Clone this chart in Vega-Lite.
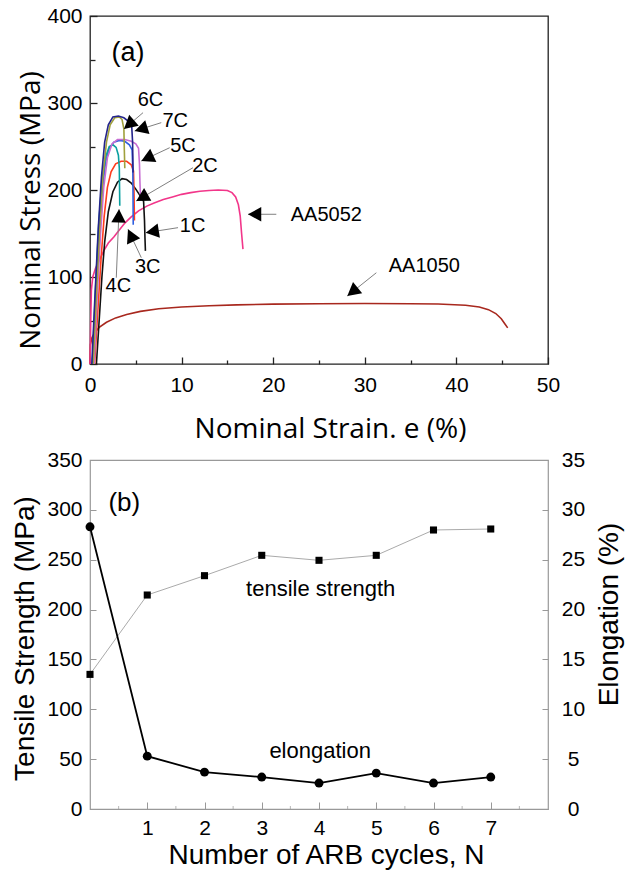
{
  "$schema": "https://vega.github.io/schema/vega-lite/v6.json",
  "padding": {"left": 10, "top": 4, "right": 5, "bottom": 0},
  "spacing": 3,
  "config": {
    "font": "Liberation Sans",
    "axis": {"labelFont": "Liberation Sans", "labelFontSize": 21, "labelColor": "#000", "grid": false, "domain": false, "titleFontWeight": "normal", "titleColor": "#000", "labelFlush": false, "labelOverlap": false},
    "text": {"font": "Liberation Sans"}
  },
  "datasets": {
    "curves": [
      {"c": "AA1050", "i": 0, "e": 0, "s": 0},
      {"c": "AA1050", "i": 1, "e": 0.05, "s": 22},
      {"c": "AA1050", "i": 2, "e": 0.2, "s": 30},
      {"c": "AA1050", "i": 3, "e": 0.5, "s": 36},
      {"c": "AA1050", "i": 4, "e": 1, "s": 42},
      {"c": "AA1050", "i": 5, "e": 1.8, "s": 48},
      {"c": "AA1050", "i": 6, "e": 2.8, "s": 53},
      {"c": "AA1050", "i": 7, "e": 4, "s": 57},
      {"c": "AA1050", "i": 8, "e": 5.5, "s": 60.5},
      {"c": "AA1050", "i": 9, "e": 7.5, "s": 63.5},
      {"c": "AA1050", "i": 10, "e": 10, "s": 65.5},
      {"c": "AA1050", "i": 11, "e": 13, "s": 67},
      {"c": "AA1050", "i": 12, "e": 16, "s": 68},
      {"c": "AA1050", "i": 13, "e": 20, "s": 68.8},
      {"c": "AA1050", "i": 14, "e": 25, "s": 69.3},
      {"c": "AA1050", "i": 15, "e": 30, "s": 69.5},
      {"c": "AA1050", "i": 16, "e": 35, "s": 69.3},
      {"c": "AA1050", "i": 17, "e": 38, "s": 69},
      {"c": "AA1050", "i": 18, "e": 41, "s": 67.6},
      {"c": "AA1050", "i": 19, "e": 42.5, "s": 65.5},
      {"c": "AA1050", "i": 20, "e": 43.5, "s": 62.5},
      {"c": "AA1050", "i": 21, "e": 44.3, "s": 58},
      {"c": "AA1050", "i": 22, "e": 44.9, "s": 52},
      {"c": "AA1050", "i": 23, "e": 45.3, "s": 46},
      {"c": "AA1050", "i": 24, "e": 45.6, "s": 41.5},
      {"c": "AA5052", "i": 0, "e": 0, "s": 0},
      {"c": "AA5052", "i": 1, "e": 0.08, "s": 50},
      {"c": "AA5052", "i": 2, "e": 0.15, "s": 85},
      {"c": "AA5052", "i": 3, "e": 0.3, "s": 100},
      {"c": "AA5052", "i": 4, "e": 0.6, "s": 110},
      {"c": "AA5052", "i": 5, "e": 1, "s": 119},
      {"c": "AA5052", "i": 6, "e": 1.5, "s": 130},
      {"c": "AA5052", "i": 7, "e": 2, "s": 139},
      {"c": "AA5052", "i": 8, "e": 2.6, "s": 146},
      {"c": "AA5052", "i": 9, "e": 3.2, "s": 154},
      {"c": "AA5052", "i": 10, "e": 3.8, "s": 162},
      {"c": "AA5052", "i": 11, "e": 4.5, "s": 169},
      {"c": "AA5052", "i": 12, "e": 5.3, "s": 176},
      {"c": "AA5052", "i": 13, "e": 6.2, "s": 181.5},
      {"c": "AA5052", "i": 14, "e": 7, "s": 185},
      {"c": "AA5052", "i": 15, "e": 8, "s": 189},
      {"c": "AA5052", "i": 16, "e": 9, "s": 192},
      {"c": "AA5052", "i": 17, "e": 10, "s": 195},
      {"c": "AA5052", "i": 18, "e": 11, "s": 197},
      {"c": "AA5052", "i": 19, "e": 12, "s": 198.5},
      {"c": "AA5052", "i": 20, "e": 13, "s": 199.5},
      {"c": "AA5052", "i": 21, "e": 14, "s": 200},
      {"c": "AA5052", "i": 22, "e": 15, "s": 199.5},
      {"c": "AA5052", "i": 23, "e": 15.5, "s": 197},
      {"c": "AA5052", "i": 24, "e": 15.9, "s": 192},
      {"c": "AA5052", "i": 25, "e": 16.2, "s": 183},
      {"c": "AA5052", "i": 26, "e": 16.4, "s": 170},
      {"c": "AA5052", "i": 27, "e": 16.55, "s": 150},
      {"c": "AA5052", "i": 28, "e": 16.7, "s": 132},
      {"c": "1C", "i": 0, "e": 0.7, "s": 0},
      {"c": "1C", "i": 1, "e": 1.0, "s": 50},
      {"c": "1C", "i": 2, "e": 1.3, "s": 100},
      {"c": "1C", "i": 3, "e": 1.6, "s": 140},
      {"c": "1C", "i": 4, "e": 2.0, "s": 175},
      {"c": "1C", "i": 5, "e": 2.5, "s": 198},
      {"c": "1C", "i": 6, "e": 3.0, "s": 209},
      {"c": "1C", "i": 7, "e": 3.5, "s": 213},
      {"c": "1C", "i": 8, "e": 4.0, "s": 212},
      {"c": "1C", "i": 9, "e": 4.5, "s": 208},
      {"c": "1C", "i": 10, "e": 5.0, "s": 201},
      {"c": "1C", "i": 11, "e": 5.5, "s": 193},
      {"c": "1C", "i": 12, "e": 5.85, "s": 187},
      {"c": "1C", "i": 13, "e": 5.95, "s": 165},
      {"c": "1C", "i": 14, "e": 6.0, "s": 145},
      {"c": "1C", "i": 15, "e": 6.05, "s": 130},
      {"c": "2C", "i": 0, "e": 0.5, "s": 0},
      {"c": "2C", "i": 1, "e": 0.85, "s": 60},
      {"c": "2C", "i": 2, "e": 1.2, "s": 120},
      {"c": "2C", "i": 3, "e": 1.55, "s": 170},
      {"c": "2C", "i": 4, "e": 1.9, "s": 203},
      {"c": "2C", "i": 5, "e": 2.3, "s": 221},
      {"c": "2C", "i": 6, "e": 2.8, "s": 230},
      {"c": "2C", "i": 7, "e": 3.4, "s": 233},
      {"c": "2C", "i": 8, "e": 4.0, "s": 233},
      {"c": "2C", "i": 9, "e": 4.5, "s": 229},
      {"c": "2C", "i": 10, "e": 4.75, "s": 222},
      {"c": "2C", "i": 11, "e": 4.8, "s": 200},
      {"c": "2C", "i": 12, "e": 4.85, "s": 165},
      {"c": "3C", "i": 0, "e": 0.3, "s": 0},
      {"c": "3C", "i": 1, "e": 0.65, "s": 80},
      {"c": "3C", "i": 2, "e": 1.0, "s": 150},
      {"c": "3C", "i": 3, "e": 1.35, "s": 200},
      {"c": "3C", "i": 4, "e": 1.7, "s": 232},
      {"c": "3C", "i": 5, "e": 2.1, "s": 248},
      {"c": "3C", "i": 6, "e": 2.6, "s": 255},
      {"c": "3C", "i": 7, "e": 3.2, "s": 257},
      {"c": "3C", "i": 8, "e": 3.8, "s": 256},
      {"c": "3C", "i": 9, "e": 4.3, "s": 252},
      {"c": "3C", "i": 10, "e": 4.6, "s": 246},
      {"c": "3C", "i": 11, "e": 4.68, "s": 220},
      {"c": "3C", "i": 12, "e": 4.72, "s": 160},
      {"c": "4C", "i": 0, "e": 0.25, "s": 0},
      {"c": "4C", "i": 1, "e": 0.6, "s": 85},
      {"c": "4C", "i": 2, "e": 0.95, "s": 160},
      {"c": "4C", "i": 3, "e": 1.3, "s": 210},
      {"c": "4C", "i": 4, "e": 1.7, "s": 238},
      {"c": "4C", "i": 5, "e": 2.1, "s": 250},
      {"c": "4C", "i": 6, "e": 2.5, "s": 252},
      {"c": "4C", "i": 7, "e": 2.85, "s": 249},
      {"c": "4C", "i": 8, "e": 3.1, "s": 240},
      {"c": "4C", "i": 9, "e": 3.2, "s": 225},
      {"c": "4C", "i": 10, "e": 3.25, "s": 182},
      {"c": "5C", "i": 0, "e": 0.45, "s": 0},
      {"c": "5C", "i": 1, "e": 0.8, "s": 80},
      {"c": "5C", "i": 2, "e": 1.15, "s": 150},
      {"c": "5C", "i": 3, "e": 1.5, "s": 203},
      {"c": "5C", "i": 4, "e": 1.9, "s": 237},
      {"c": "5C", "i": 5, "e": 2.4, "s": 253},
      {"c": "5C", "i": 6, "e": 3.0, "s": 258},
      {"c": "5C", "i": 7, "e": 3.8, "s": 258},
      {"c": "5C", "i": 8, "e": 4.5, "s": 256},
      {"c": "5C", "i": 9, "e": 5.0, "s": 253},
      {"c": "5C", "i": 10, "e": 5.3, "s": 248},
      {"c": "5C", "i": 11, "e": 5.4, "s": 230},
      {"c": "5C", "i": 12, "e": 5.45, "s": 210},
      {"c": "5C", "i": 13, "e": 5.5, "s": 195},
      {"c": "6C", "i": 0, "e": 0.35, "s": 0},
      {"c": "6C", "i": 1, "e": 0.7, "s": 80},
      {"c": "6C", "i": 2, "e": 1.05, "s": 155},
      {"c": "6C", "i": 3, "e": 1.4, "s": 215},
      {"c": "6C", "i": 4, "e": 1.8, "s": 255},
      {"c": "6C", "i": 5, "e": 2.2, "s": 275},
      {"c": "6C", "i": 6, "e": 2.7, "s": 283},
      {"c": "6C", "i": 7, "e": 3.2, "s": 284},
      {"c": "6C", "i": 8, "e": 3.5, "s": 281},
      {"c": "6C", "i": 9, "e": 3.7, "s": 270},
      {"c": "6C", "i": 10, "e": 3.75, "s": 245},
      {"c": "6C", "i": 11, "e": 3.8, "s": 225},
      {"c": "7C", "i": 0, "e": 0.2, "s": 0},
      {"c": "7C", "i": 1, "e": 0.55, "s": 80},
      {"c": "7C", "i": 2, "e": 0.9, "s": 155},
      {"c": "7C", "i": 3, "e": 1.25, "s": 215},
      {"c": "7C", "i": 4, "e": 1.6, "s": 255},
      {"c": "7C", "i": 5, "e": 2.0, "s": 275},
      {"c": "7C", "i": 6, "e": 2.5, "s": 284},
      {"c": "7C", "i": 7, "e": 3.1, "s": 285},
      {"c": "7C", "i": 8, "e": 3.7, "s": 283},
      {"c": "7C", "i": 9, "e": 4.2, "s": 279},
      {"c": "7C", "i": 10, "e": 4.55, "s": 274},
      {"c": "7C", "i": 11, "e": 4.65, "s": 255},
      {"c": "7C", "i": 12, "e": 4.7, "s": 220}
    ],
    "ann": [
      {"label": "6C", "tx": 6.6, "ty": 304, "ax": 5.79, "ay": 288.9, "hx": 3.71, "hy": 270.1, "dir": 229},
      {"label": "7C", "tx": 9.3, "ty": 279, "ax": 7.78, "ay": 277.4, "hx": 4.88, "hy": 267.8, "dir": 253},
      {"label": "5C", "tx": 10.15, "ty": 251, "ax": 8.7, "ay": 248.6, "hx": 5.6, "hy": 233.3, "dir": 245},
      {"label": "2C", "tx": 12.55, "ty": 227.6, "ax": 11.24, "ay": 225.6, "hx": 5.05, "hy": 187.4, "dir": 240},
      {"label": "1C", "tx": 11.2, "ty": 159, "ax": 9.61, "ay": 156.7, "hx": 6.08, "hy": 150.9, "dir": 261},
      {"label": "3C", "tx": 6.3, "ty": 112, "ax": 5.6, "ay": 122.2, "hx": 4.15, "hy": 154.8, "dir": 335},
      {"label": "4C", "tx": 3.1, "ty": 90, "ax": 2.87, "ay": 99.2, "hx": 3.17, "hy": 177.8, "dir": 2},
      {"label": "AA5052", "tx": 25.8, "ty": 171.8, "ax": 20.34, "ay": 172.1, "hx": 17.25, "hy": 172.1, "dir": 270},
      {"label": "AA1050", "tx": 36.5, "ty": 112.6, "ax": 31.26, "ay": 104.9, "hx": 28.09, "hy": 78.2, "dir": 231}
    ],
    "arb": [
      {"N": 0, "ts": 135, "el": 28.3},
      {"N": 1, "ts": 214.6, "el": 5.3},
      {"N": 2, "ts": 234, "el": 3.7},
      {"N": 3, "ts": 254.4, "el": 3.2},
      {"N": 4, "ts": 249.4, "el": 2.6},
      {"N": 5, "ts": 254.4, "el": 3.6},
      {"N": 6, "ts": 279.8, "el": 2.6},
      {"N": 7, "ts": 280.8, "el": 3.2}
    ],
    "minorN": [
      {"N": 0.5, "ts": 0}, {"N": 1.5, "ts": 0}, {"N": 2.5, "ts": 0}, {"N": 3.5, "ts": 0},
      {"N": 4.5, "ts": 0}, {"N": 5.5, "ts": 0}, {"N": 6.5, "ts": 0}, {"N": 7.5, "ts": 0}
    ]
  },
  "vconcat": [
    {
      "width": 458,
      "height": 348,
      "view": {"stroke": "#222", "strokeWidth": 1.3},
      "layer": [
        {
          "data": {"name": "curves"},
          "mark": {"type": "line", "strokeWidth": 1.6},
          "encoding": {
            "x": {"field": "e", "type": "quantitative", "scale": {"domain": [0, 50], "nice": false, "zero": false},
              "axis": {"values": [0, 5, 10, 15, 20, 25, 30, 35, 40, 45, 50],
                "labelExpr": "datum.value % 10 === 0 ? datum.label : ''",
                "tickSize": {"condition": {"test": "datum.value % 10 === 0", "value": -7}, "value": -4},
                "tickColor": "#222", "tickWidth": 1.3, "labelPadding": 17.4,
                "title": "Nominal Strain. e (%)", "titleFont": "Open Sans", "titleFontSize": 28, "titlePadding": 17.5, "titleX": 240}},
            "y": {"field": "s", "type": "quantitative", "scale": {"domain": [0, 400], "nice": false},
              "axis": {"values": [0, 50, 100, 150, 200, 250, 300, 350, 400],
                "labelExpr": "datum.value % 100 === 0 ? datum.label : ''",
                "tickSize": {"condition": {"test": "datum.value % 100 === 0", "value": -7}, "value": -5},
                "tickColor": "#222", "tickWidth": 1.3, "labelPadding": 15,
                "title": "Nominal Stress (MPa)", "titleFont": "Open Sans", "titleFontSize": 28, "titlePadding": 1, "titleY": 194}},
            "color": {"field": "c", "type": "nominal", "legend": null,
              "scale": {"domain": ["AA1050", "AA5052", "1C", "2C", "3C", "4C", "5C", "6C", "7C"],
                "range": ["#a8281e", "#f2368a", "#111111", "#ff3c1e", "#3060e0", "#0aa0a0", "#c86ed2", "#a0a03c", "#24248c"]}},
            "strokeWidth": {"field": "c", "type": "nominal", "legend": null,
              "scale": {"domain": ["AA1050", "AA5052", "1C", "2C", "3C", "4C", "5C", "6C", "7C"],
                "range": [2, 2.8, 1.6, 1.6, 1.6, 1.6, 1.6, 1.6, 1.6]}},
            "order": {"field": "i", "type": "quantitative"}
          }
        },
        {
          "data": {"name": "ann"},
          "mark": {"type": "rule", "color": "#808080", "strokeWidth": 1},
          "encoding": {
            "x": {"field": "ax", "type": "quantitative"},
            "y": {"field": "ay", "type": "quantitative"},
            "x2": {"field": "hx"},
            "y2": {"field": "hy"}
          }
        },
        {
          "data": {"name": "ann"},
          "mark": {"type": "point", "shape": "M0,0L-0.55,1L0.55,1Z", "filled": true, "color": "#000", "opacity": 1, "size": 700},
          "encoding": {
            "x": {"field": "hx", "type": "quantitative"},
            "y": {"field": "hy", "type": "quantitative"},
            "angle": {"field": "dir", "type": "quantitative", "scale": null}
          }
        },
        {
          "data": {"name": "ann"},
          "mark": {"type": "text", "fontSize": 20, "color": "#000", "align": "center", "baseline": "middle"},
          "encoding": {
            "x": {"field": "tx", "type": "quantitative"},
            "y": {"field": "ty", "type": "quantitative"},
            "text": {"field": "label"}
          }
        },
        {
          "data": {"values": [{"t": "(a)", "x": 4.15, "y": 357}]},
          "mark": {"type": "text", "fontSize": 27, "color": "#000", "align": "center", "baseline": "middle"},
          "encoding": {
            "x": {"field": "x", "type": "quantitative"},
            "y": {"field": "y", "type": "quantitative"},
            "text": {"field": "t"}
          }
        }
      ]
    },
    {
      "width": 458,
      "height": 349,
      "view": {"stroke": "#999", "strokeWidth": 1.2},
      "layer": [
        {
          "layer": [
            {
              "data": {"name": "arb"},
              "mark": {"type": "line", "color": "#aaaaaa", "strokeWidth": 1},
              "encoding": {
                "x": {"field": "N", "type": "quantitative", "scale": {"domain": [0, 8], "nice": false},
                  "axis": {"values": [1, 2, 3, 4, 5, 6, 7], "format": "d",
                    "tickSize": -7,
                    "tickColor": "#999", "tickWidth": 1, "labelPadding": 15.4,
                    "title": "Number of ARB cycles, N", "titleFontSize": 28, "titlePadding": 3, "titleX": 236}},
                "y": {"field": "ts", "type": "quantitative", "scale": {"domain": [0, 350], "nice": false},
                  "axis": {"orient": "left", "values": [0, 25, 50, 75, 100, 125, 150, 175, 200, 225, 250, 275, 300, 325, 350],
                    "labelExpr": "datum.value % 50 === 0 ? datum.label : ''",
                    "tickSize": {"condition": {"test": "datum.value % 50 === 0", "value": -6}, "value": -4},
                    "tickColor": "#999", "tickWidth": 1, "labelPadding": 14,
                    "title": "Tensile Strength (MPa)", "titleFontSize": 28, "titlePadding": 7.5, "titleY": 178}}
              }
            },
            {
              "data": {"name": "minorN"},
              "mark": {"type": "tick", "orient": "vertical", "color": "#999", "thickness": 1, "size": 6, "clip": true},
              "encoding": {
                "x": {"field": "N", "type": "quantitative"},
                "y": {"field": "ts", "type": "quantitative"}
              }
            },
            {
              "data": {"name": "arb"},
              "mark": {"type": "point", "shape": "square", "filled": true, "color": "#000", "opacity": 1, "size": 50},
              "encoding": {
                "x": {"field": "N", "type": "quantitative"},
                "y": {"field": "ts", "type": "quantitative"}
              }
            },
            {
              "data": {"values": [
                {"t": "tensile strength", "x": 4.03, "y": 221},
                {"t": "elongation", "x": 4.02, "y": 57.7}
              ]},
              "mark": {"type": "text", "fontSize": 22, "color": "#000", "align": "center", "baseline": "middle"},
              "encoding": {
                "x": {"field": "x", "type": "quantitative"},
                "y": {"field": "y", "type": "quantitative"},
                "text": {"field": "t"}
              }
            },
            {
              "data": {"values": [{"t": "(b)", "x": 0.6, "y": 307}]},
              "mark": {"type": "text", "fontSize": 26, "color": "#000", "align": "center", "baseline": "middle"},
              "encoding": {
                "x": {"field": "x", "type": "quantitative"},
                "y": {"field": "y", "type": "quantitative"},
                "text": {"field": "t"}
              }
            }
          ]
        },
        {
          "layer": [
            {
              "data": {"name": "arb"},
              "mark": {"type": "line", "color": "#000", "strokeWidth": 1.8},
              "encoding": {
                "x": {"field": "N", "type": "quantitative"},
                "y": {"field": "el", "type": "quantitative", "scale": {"domain": [0, 35], "nice": false},
                  "axis": {"orient": "right", "values": [0, 5, 10, 15, 20, 25, 30, 35],
                    "tickSize": -6, "tickColor": "#999", "tickWidth": 1, "labelPadding": 31, "labelAlign": "center",
                    "title": "Elongation (%)", "titleFontSize": 28, "titleAngle": 270, "titleBaseline": "top", "titlePadding": 11, "titleY": 154}}
              }
            },
            {
              "data": {"name": "arb"},
              "mark": {"type": "point", "shape": "circle", "filled": true, "color": "#000", "opacity": 1, "size": 80},
              "encoding": {
                "x": {"field": "N", "type": "quantitative"},
                "y": {"field": "el", "type": "quantitative"}
              }
            }
          ]
        }
      ],
      "resolve": {"scale": {"y": "independent"}}
    }
  ]
}
